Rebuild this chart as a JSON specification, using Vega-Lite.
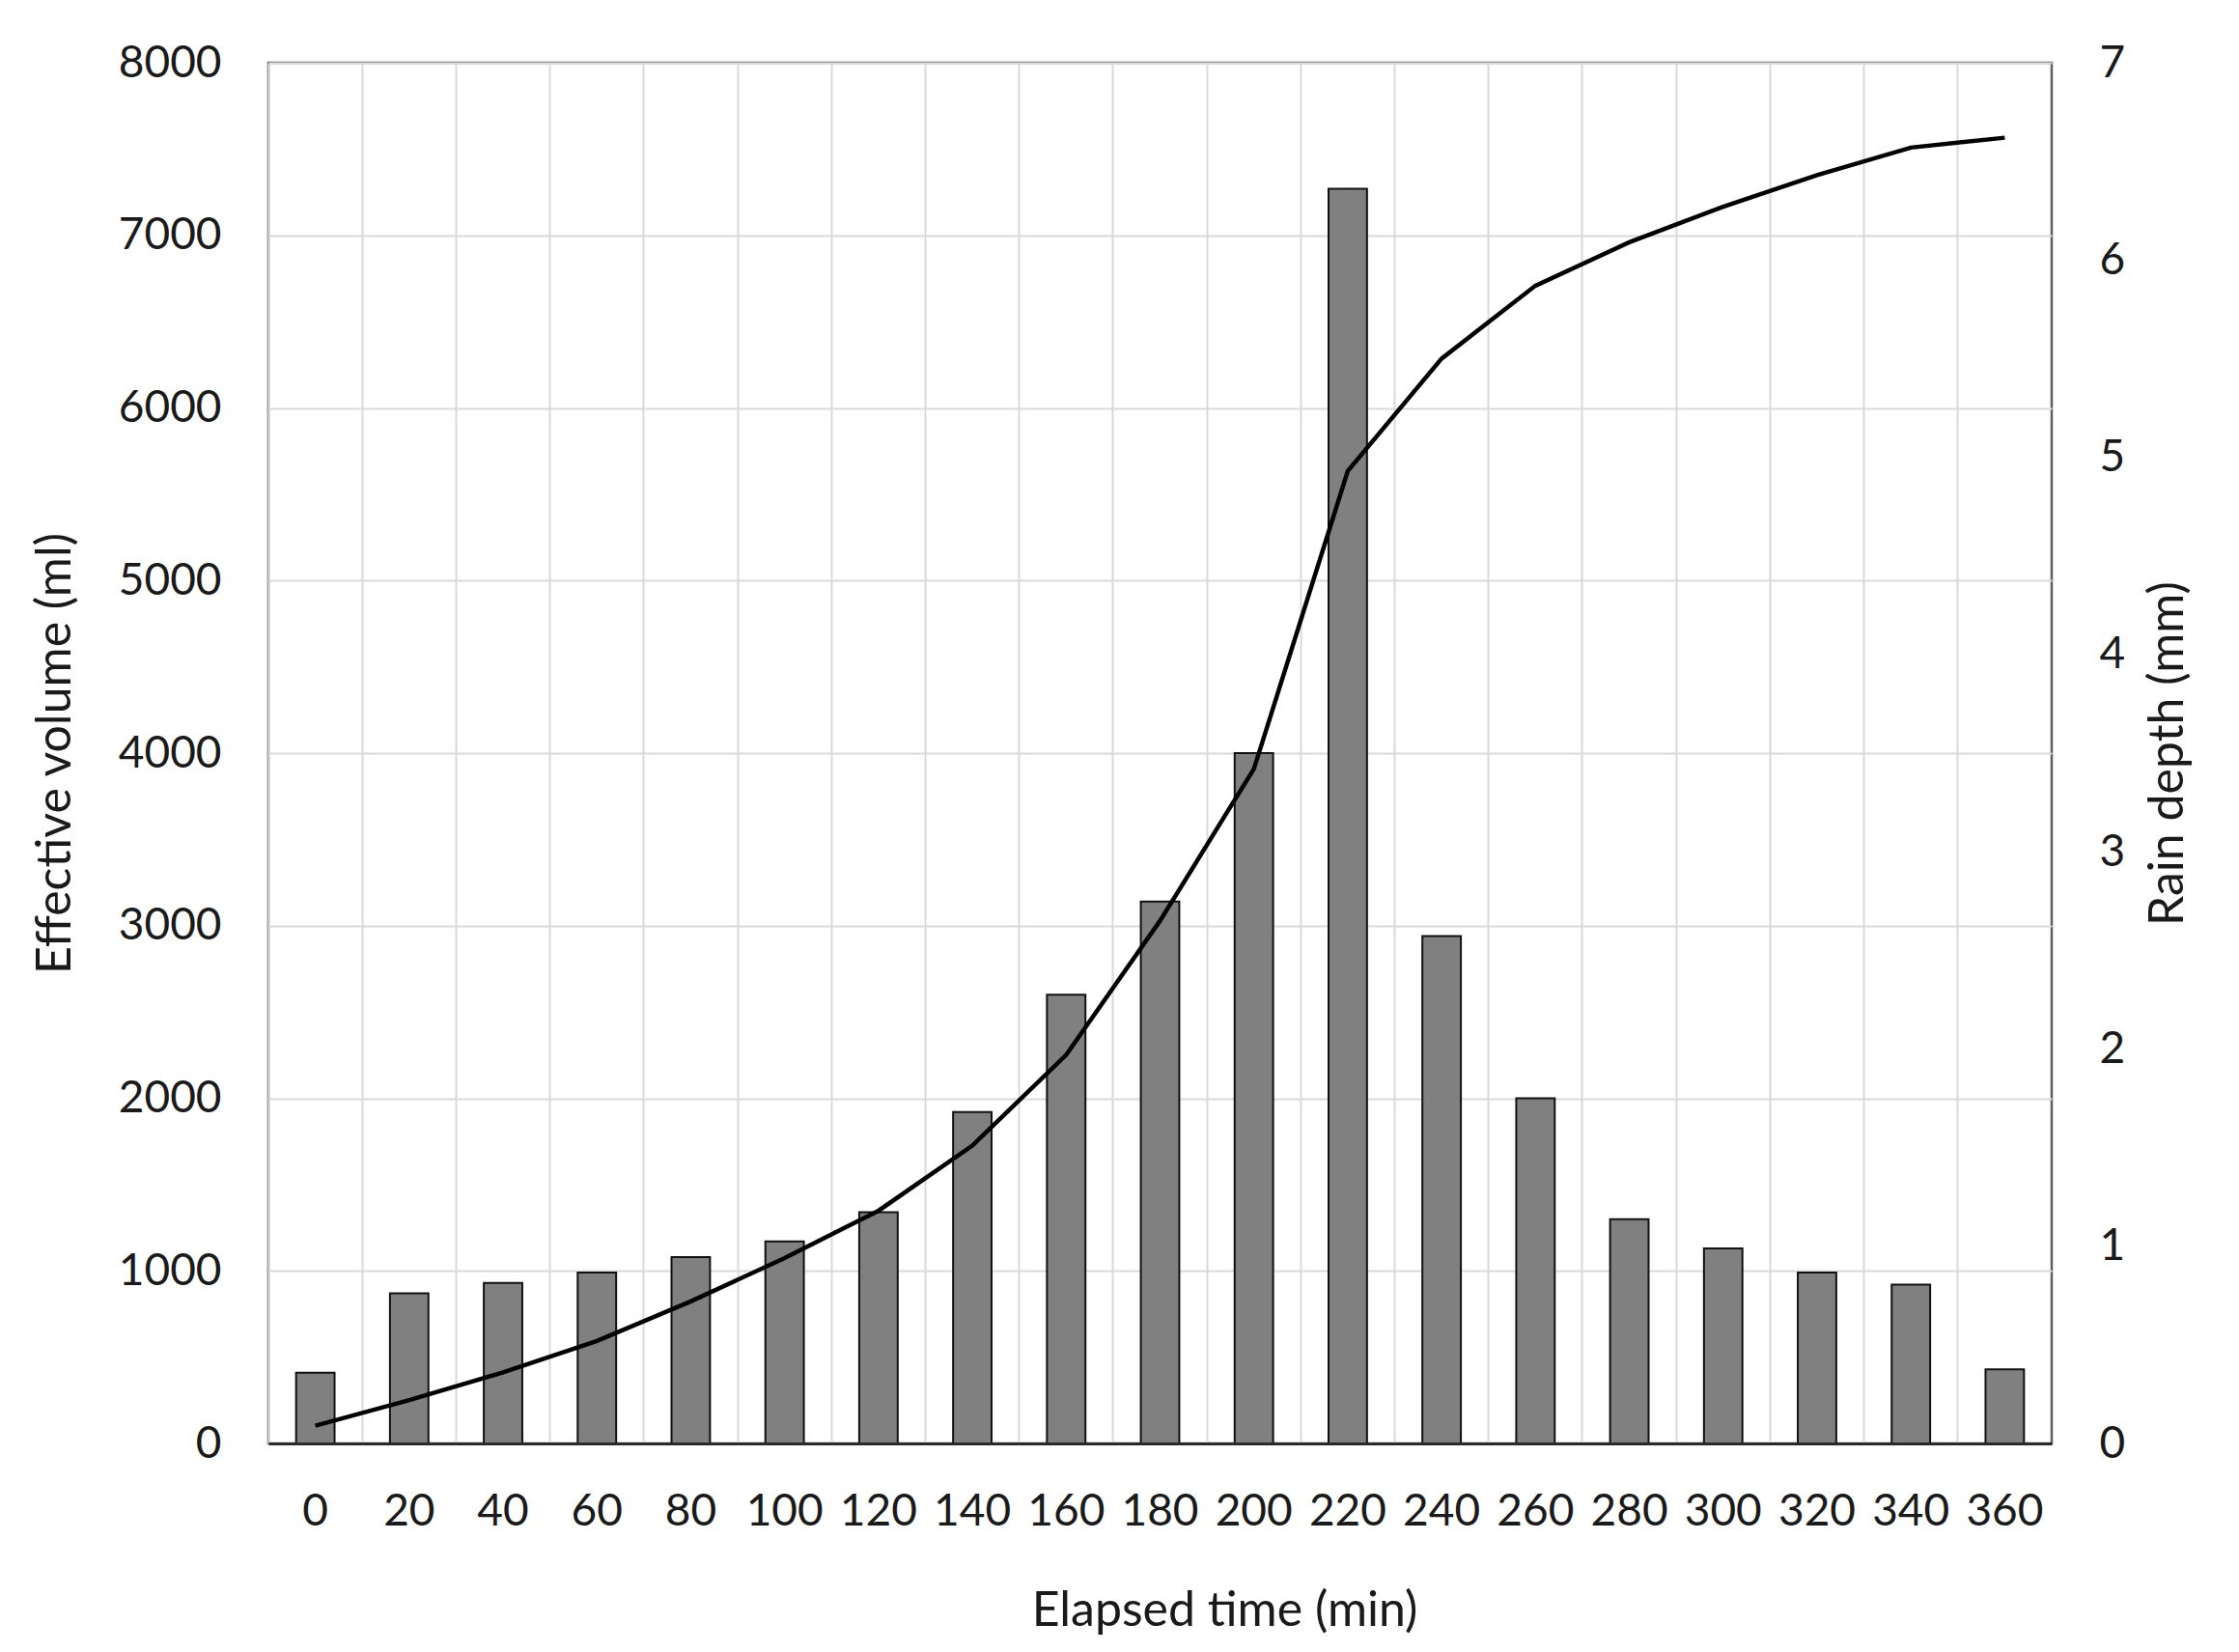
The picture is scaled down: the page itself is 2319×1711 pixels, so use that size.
{
  "$schema": "https://vega.github.io/schema/vega-lite/v6.json",
  "width": 1847,
  "height": 1430,
  "autosize": "none",
  "padding": {"left": 278, "top": 65, "right": 194, "bottom": 216},
  "background": "white",
  "config": {
    "font": "Lato",
    "view": {"stroke": "#5f5f5f", "strokeWidth": 2.5},
    "axis": {"labelColor": "#1a1a1a", "titleColor": "#1a1a1a", "labelFont": "Lato", "titleFont": "Lato", "titleFontWeight": "normal", "labelFontSize": 46, "titleFontSize": 50}
  },
  "data": {
    "values": [
      {"time": 0, "volume": 410, "rain": 0.09},
      {"time": 20, "volume": 870, "rain": 0.22},
      {"time": 40, "volume": 930, "rain": 0.36},
      {"time": 60, "volume": 990, "rain": 0.52},
      {"time": 80, "volume": 1080, "rain": 0.72},
      {"time": 100, "volume": 1170, "rain": 0.94},
      {"time": 120, "volume": 1340, "rain": 1.18},
      {"time": 140, "volume": 1920, "rain": 1.51},
      {"time": 160, "volume": 2600, "rain": 1.97},
      {"time": 180, "volume": 3140, "rain": 2.65},
      {"time": 200, "volume": 4000, "rain": 3.42},
      {"time": 220, "volume": 7270, "rain": 4.93},
      {"time": 240, "volume": 2940, "rain": 5.5},
      {"time": 260, "volume": 2000, "rain": 5.87},
      {"time": 280, "volume": 1300, "rain": 6.09},
      {"time": 300, "volume": 1130, "rain": 6.27},
      {"time": 320, "volume": 990, "rain": 6.43},
      {"time": 340, "volume": 920, "rain": 6.57},
      {"time": 360, "volume": 430, "rain": 6.62}
    ]
  },
  "layer": [
    {
      "mark": {"type": "bar", "color": "#808080", "stroke": "#111111", "strokeWidth": 2, "width": {"band": 0.41}},
      "encoding": {
        "x": {
          "field": "time", "type": "ordinal",
          "scale": {"paddingInner": 0, "paddingOuter": 0},
          "axis": {"title": "Elapsed time (min)", "labelAngle": 0, "ticks": false, "grid": false, "domain": true, "domainColor": "#2a2a2a", "domainWidth": 3, "labelPadding": 48, "titlePadding": 55, "titleX": 990, "zindex": 1}
        },
        "y": {
          "field": "volume", "type": "quantitative",
          "scale": {"domain": [0, 8000], "nice": false},
          "axis": {"title": "Effective volume (ml)", "format": "d", "values": [0, 1000, 2000, 3000, 4000, 5000, 6000, 7000, 8000], "ticks": false, "domain": false, "grid": true, "gridColor": "#d9d9d9", "gridWidth": 2, "labelPadding": 49, "titlePadding": 40, "zindex": 0}
        }
      }
    },
    {
      "mark": {"type": "line", "color": "#000000", "strokeWidth": 4.5},
      "encoding": {
        "x": {
          "field": "time", "type": "ordinal",
          "axis": {"orient": "top", "title": null, "labels": false, "ticks": false, "domain": false, "grid": true, "bandPosition": 0, "gridColor": "#d9d9d9", "gridWidth": 2, "zindex": 0}
        },
        "y": {
          "field": "rain", "type": "quantitative",
          "scale": {"domain": [0, 7], "nice": false},
          "axis": {"orient": "right", "title": "Rain depth (mm)", "titleAngle": 270, "values": [0, 1, 2, 3, 4, 5, 6, 7], "ticks": false, "domain": false, "grid": false, "labelPadding": 49, "titlePadding": 70}
        }
      }
    }
  ],
  "resolve": {"scale": {"y": "independent"}, "axis": {"x": "independent"}}
}
